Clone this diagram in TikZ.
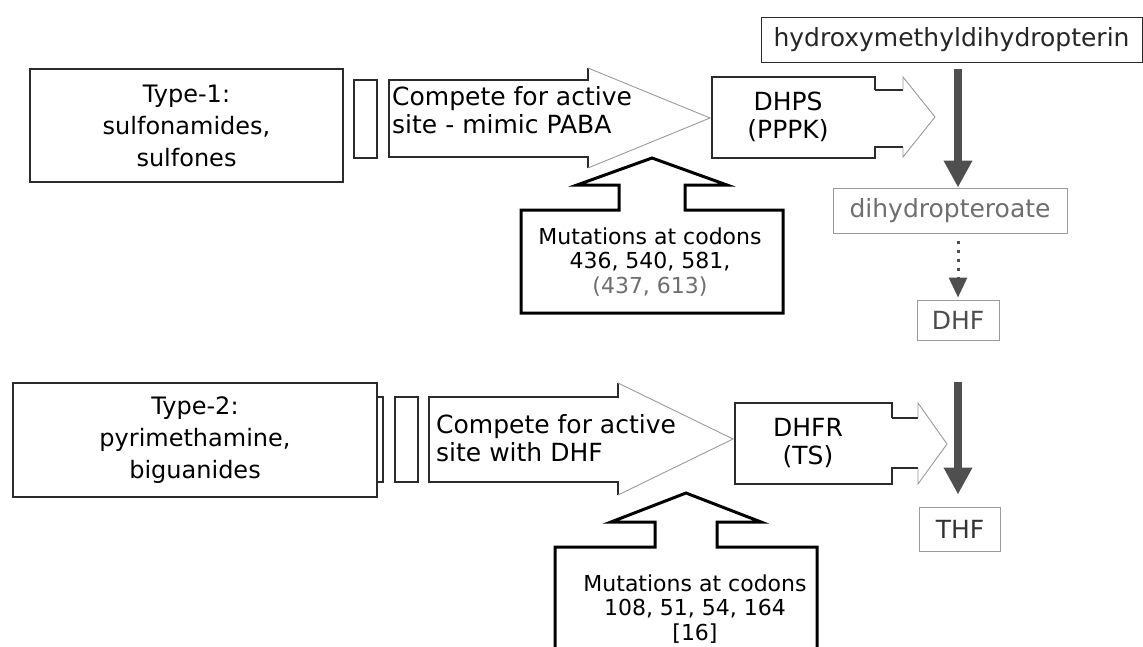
\documentclass[tikz,border=0pt]{standalone}
\usepackage{fontspec}
\setmainfont{DejaVu Sans}
\usepackage{tikz}
\usetikzlibrary{arrows.meta,positioning}
\definecolor{inkdark}{HTML}{2B2B2B}
\definecolor{inkmid}{HTML}{6E6E6E}
\definecolor{inkpale}{HTML}{9A9A9A}
\definecolor{shaftgray}{HTML}{4F4F4F}

\begin{document}
\begin{tikzpicture}[x=1pt, y=-1pt,
  drug/.style={draw=inkdark, line width=1.1pt, align=center,
               font=\fontsize{24}{32}\selectfont},
  txt/.style={font=\fontsize{25}{28}\selectfont, align=left, inner sep=0pt},
  mol/.style={draw=inkdark, line width=1pt, inner sep=0pt,
              font=\fontsize{25}{28}\selectfont},
  body/.style={draw=inkdark, line width=1.1pt, line join=miter},
  headline/.style={draw=inkpale, line width=0.9pt},
  mutbox/.style={draw=black, line width=3pt, line join=miter},
  mut/.style={font=\fontsize{22}{24.5}\selectfont, align=center, inner sep=0pt},
  flow/.style={-{Triangle[width=27pt,length=27pt]}, line width=8pt, draw=shaftgray},
  dots/.style={-{Triangle[width=18pt,length=20pt]}, line width=3pt, draw=shaftgray,
               dash pattern=on 3pt off 6pt}]
\useasboundingbox (0,0) rectangle (1143,646);

% first row: DHPS
\node[drug, minimum width=313pt, minimum height=113pt] (type1) at (186.5,125.5)
  {Type-1:\\sulfonamides,\\sulfones};
\draw[body] (354,80) rectangle (377,158);
\draw[body] (588,68) -- (588,80) -- (389,80) -- (389,157) -- (588,157) -- (588,168);
\draw[headline] (588,68) -- (710,118) -- (588,168);
\node[txt, anchor=west] (compete1) at (392,110) {Compete for active\\site - mimic PABA};
\draw[body] (875,90) -- (875,77) -- (712,77) -- (712,158) -- (875,158) -- (875,147) -- (903,147);
\draw[body] (875,90) -- (903,90);
\draw[headline] (903,90) -- (903,77) -- (935,117) -- (903,157) -- (903,147);
\node[txt, align=center] (dhps) at (788,117) {DHPS\\(PPPK)};
\draw[mutbox, fill=white] (521,313) -- (521,210) -- (619,210) -- (619,185) -- (577,185)
  -- (652,158) -- (727,185) -- (685,185) -- (685,210) -- (783,210) -- (783,313) -- cycle;
\node[mut] (mut1) at (650,262) {Mutations at codons\\436, 540, 581,\\\textcolor{inkmid}{(437, 613)}};

% second row: DHFR
\node[drug, minimum width=364pt, minimum height=114pt] (type2) at (195,440)
  {Type-2:\\pyrimethamine,\\biguanides};
\draw[body] (377,397) rectangle (383,482);
\draw[body] (395,397) rectangle (418,482);
\draw[body] (618,383) -- (618,397) -- (429,397) -- (429,482) -- (618,482) -- (618,495);
\draw[headline] (618,383) -- (733,439) -- (618,495);
\node[txt, anchor=west] (compete2) at (436,438) {Compete for active\\site with DHF};
\draw[body] (892,418) -- (892,403) -- (735,403) -- (735,484) -- (892,484) -- (892,468) -- (918,468);
\draw[body] (892,418) -- (918,418);
\draw[headline] (918,418) -- (918,403) -- (947,444) -- (918,484) -- (918,468);
\node[txt, align=center] (dhfr) at (808,443) {DHFR\\(TS)};
\draw[mutbox] (555,650) -- (555,547) -- (655,547) -- (655,522) -- (611,522) -- (686,493)
  -- (761,522) -- (717,522) -- (717,547) -- (817,547) -- (817,650);
\node[mut] (mut2) at (695,609) {Mutations at codons\\108, 51, 54, 164\\{[16]}};

% folate pathway
\node[mol, text=black!85, minimum width=381pt, minimum height=45pt] (hmdp) at (951.5,39.5)
  {hydroxymethyldihydropterin};
\node[mol, draw=inkpale, text=inkmid, minimum width=234pt, minimum height=45pt] (dhp)
  at (950,210.5) {dihydropteroate};
\node[mol, draw=inkpale, text=black!70, minimum width=82pt, minimum height=40pt] (dhf)
  at (958,320) {DHF};
\node[mol, draw=inkpale, text=black!80, minimum width=81pt, minimum height=44pt] (thf)
  at (960,529) {THF};
\coordinate (tsout) at (958,382);
\draw[flow, shorten <=6pt] (hmdp.south -| dhf) -- (dhp.north -| dhf);
\draw[dots, shorten <=7pt, shorten >=2pt] (dhp.south -| dhf) -- (dhf.north);
\draw[flow, shorten >=12pt] (tsout) -- (tsout |- thf.north);
\end{tikzpicture}
\end{document}
